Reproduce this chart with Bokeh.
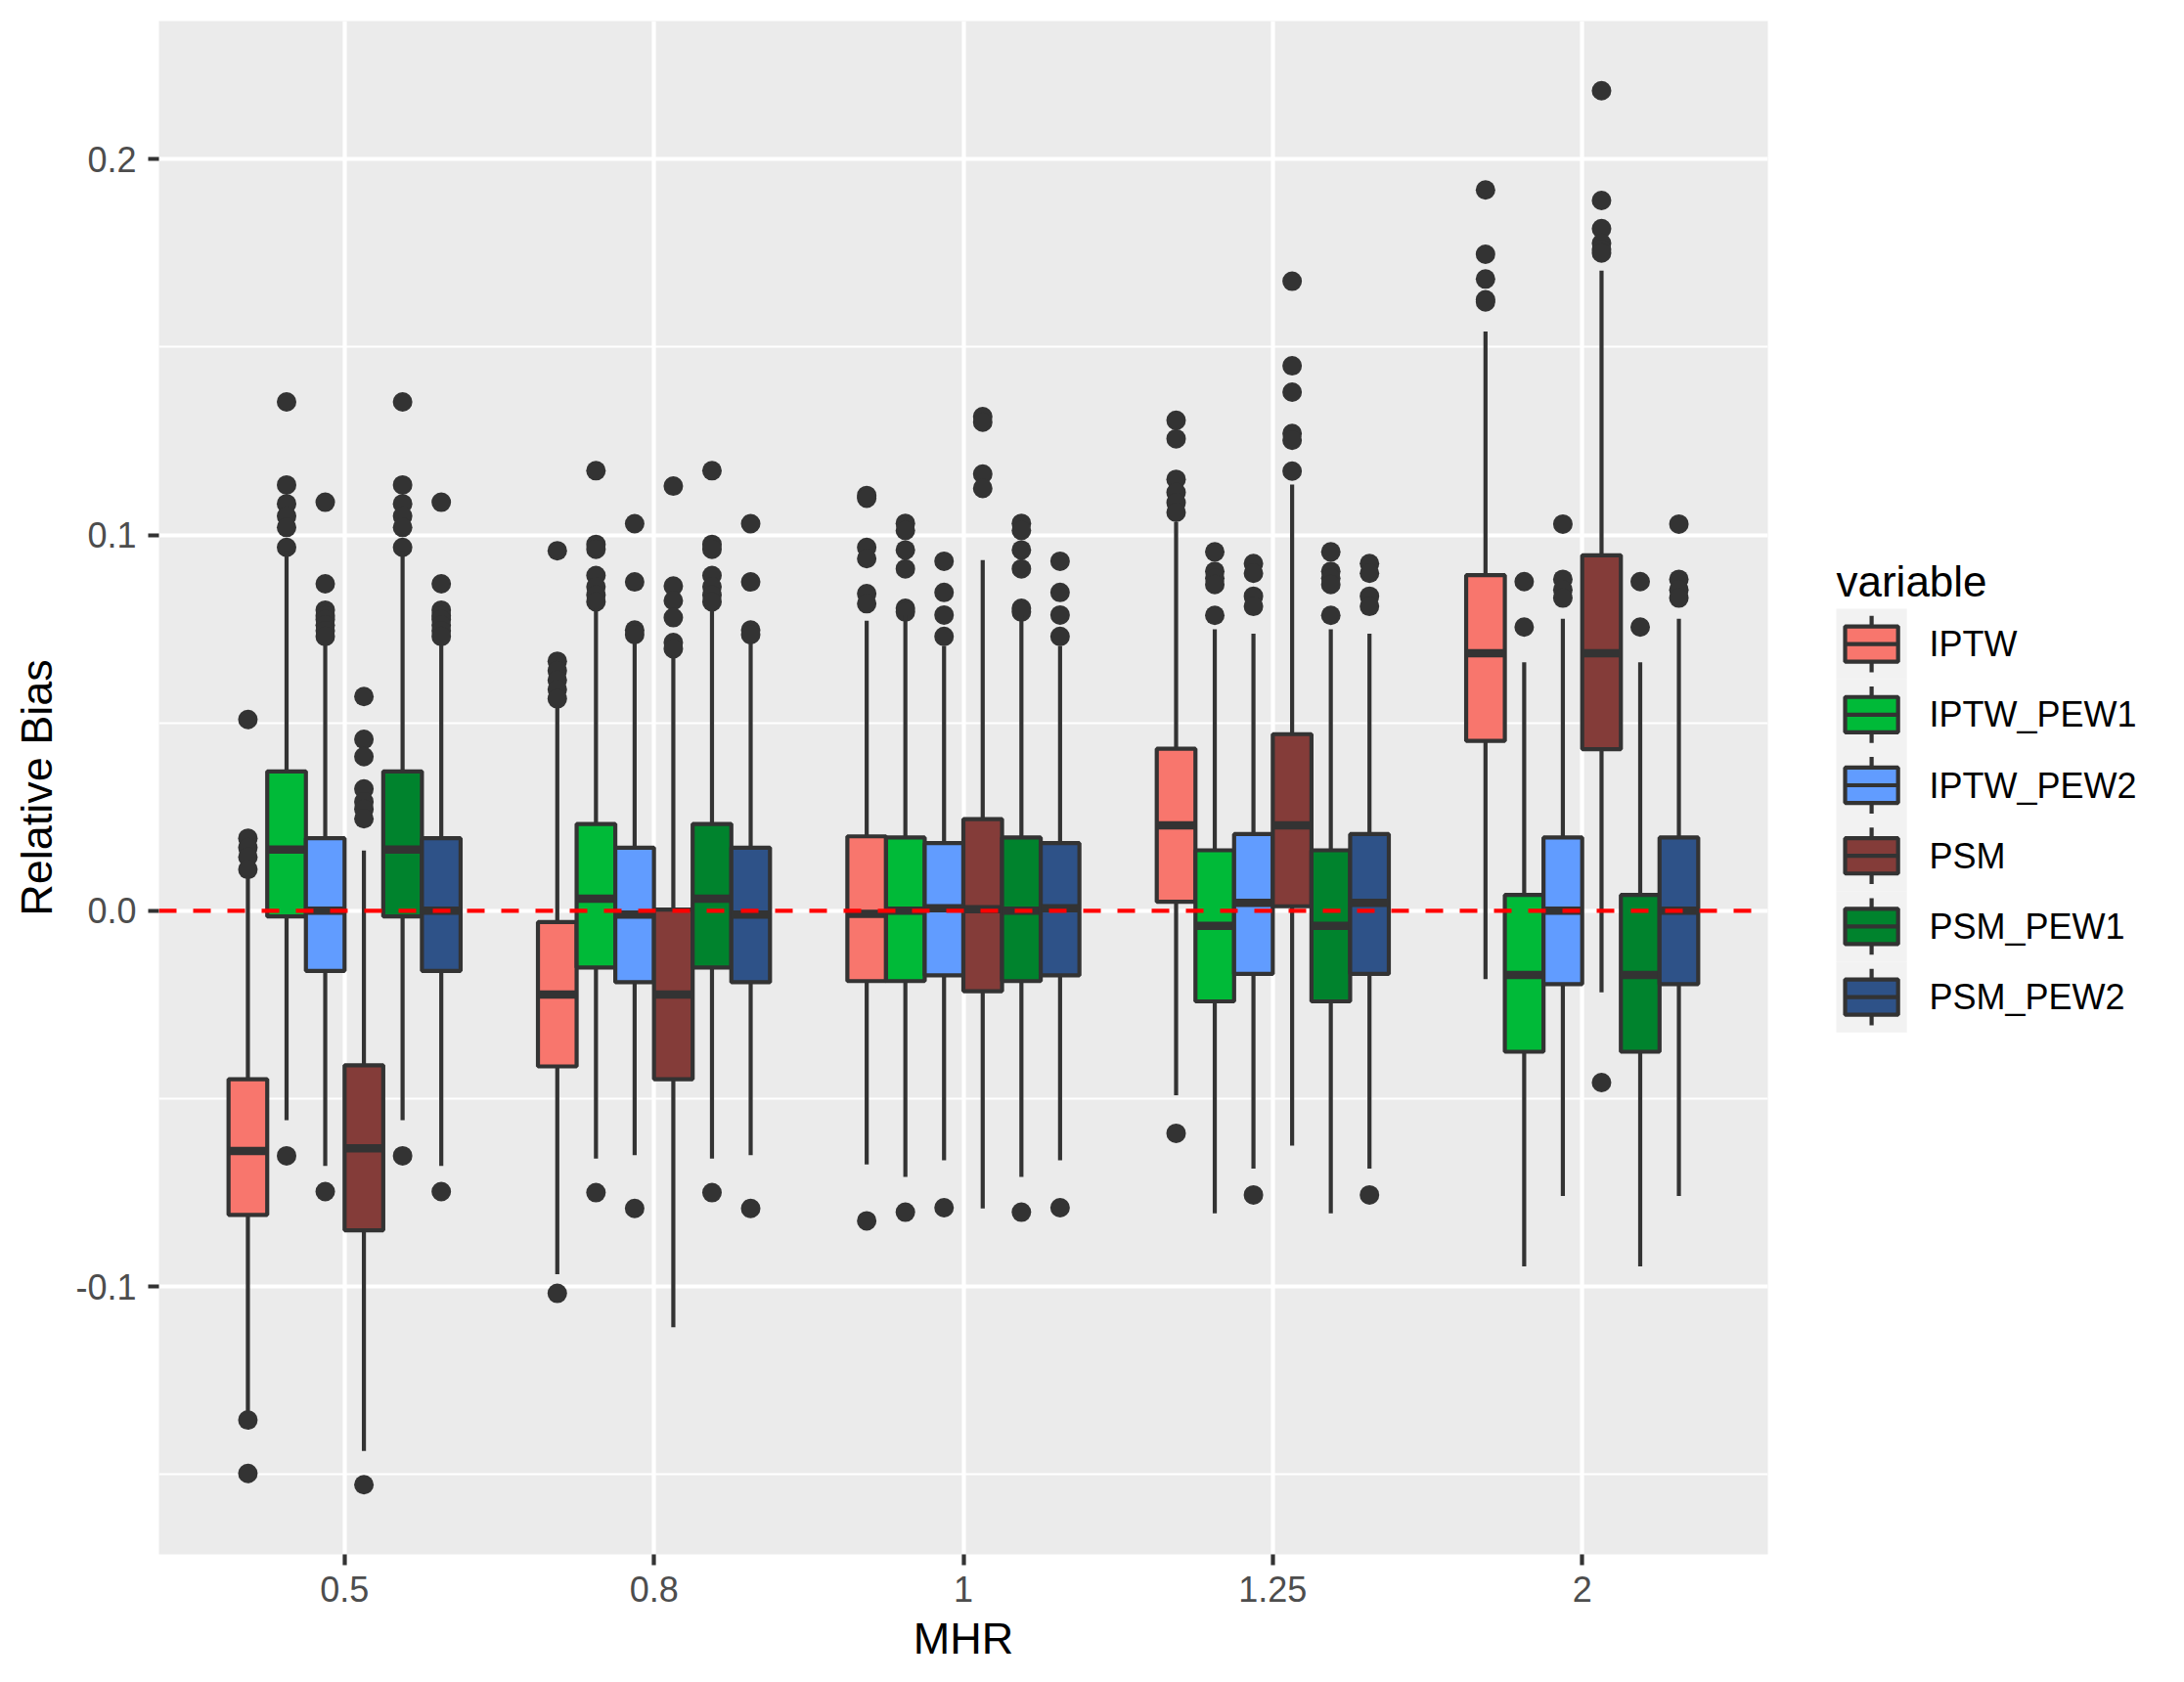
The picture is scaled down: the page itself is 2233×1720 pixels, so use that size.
from bokeh.plotting import figure
from bokeh.models import FactorRange, Range1d, FixedTicker, Span, ColumnDataSource, NumeralTickFormatter
from bokeh.transform import dodge
from bokeh.layouts import row
from bokeh.core.properties import value
from bokeh.embed import file_html
from bokeh.resources import INLINE

# ---------------- data ----------------
mhr = ["0.5", "0.8", "1", "1.25", "2"]
variables = ["IPTW", "IPTW_PEW1", "IPTW_PEW2", "PSM", "PSM_PEW1", "PSM_PEW2"]
colors = ["#F8766D", "#00BA38", "#619CFF", "#843C39", "#00832D", "#2E5288"]

iptw_q1 = [-0.0809, -0.0414, -0.0187, 0.0024, 0.0452]
iptw_med = [-0.0639, -0.0223, -0.0008, 0.0227, 0.0685]
iptw_q3 = [-0.0448, -0.0030, 0.0198, 0.0431, 0.0893]
iptw_lo = [-0.1335, -0.0967, -0.0675, -0.0491, -0.0182]
iptw_hi = [0.0093, 0.0547, 0.0772, 0.1034, 0.1541]
iptw_out = [
    [0.0509, 0.0193, 0.0168, 0.0143, 0.0110, -0.1355, -0.1497],
    [0.0958, 0.0664, 0.0639, 0.0614, 0.0589, 0.0564, -0.1018],
    [0.1105, 0.1098, 0.0967, 0.0937, 0.0844, 0.0817, -0.0825],
    [0.1305, 0.1256, 0.1148, 0.1113, 0.1086, 0.1060, -0.0592],
    [0.1918, 0.1747, 0.1681, 0.1626, 0.1620],
]

pew1_q1 = [-0.0015, -0.0151, -0.0187, -0.0241, -0.0375]
pew1_med = [0.0163, 0.0032, 0.0000, -0.0040, -0.0171]
pew1_q3 = [0.0371, 0.0231, 0.0195, 0.0161, 0.0042]
pew1_lo = [-0.0557, -0.0659, -0.0708, -0.0805, -0.0946]
pew1_hi = [0.0958, 0.0805, 0.0787, 0.0749, 0.0661]
pew1_out = [
    [0.1354, 0.1133, 0.1083, 0.1050, 0.1020, 0.0967, -0.0652],
    [0.1171, 0.0975, 0.0962, 0.0892, 0.0862, 0.0840, 0.0822, -0.0750],
    [0.1031, 0.1012, 0.0960, 0.0910, 0.0805, 0.0795, -0.0802],
    [0.0955, 0.0903, 0.0885, 0.0868, 0.0786],
    [0.0876, 0.0755],
]

pew2_q1 = [-0.0160, -0.0190, -0.0172, -0.0168, -0.0195]
pew2_med = [0.0000, -0.0010, 0.0007, 0.0021, 0.0000]
pew2_q3 = [0.0193, 0.0168, 0.0180, 0.0204, 0.0195]
pew2_lo = [-0.0679, -0.0650, -0.0664, -0.0686, -0.0759]
pew2_hi = [0.0717, 0.0722, 0.0705, 0.0737, 0.0777]
pew2_out = [
    [0.1087, 0.0870, 0.0800, 0.0785, 0.0775, 0.0760, 0.0745, 0.0730, -0.0747],
    [0.1030, 0.0875, 0.0747, 0.0735, -0.0792],
    [0.0930, 0.0847, 0.0787, 0.0730, -0.0790],
    [0.0924, 0.0898, 0.0837, 0.0810, -0.0756],
    [0.1029, 0.0882, 0.0854, 0.0832],
]

psm_q1 = [-0.0850, -0.0448, -0.0214, 0.0012, 0.0430]
psm_med = [-0.0632, -0.0223, 0.0004, 0.0227, 0.0685]
psm_q3 = [-0.0411, 0.0003, 0.0244, 0.0470, 0.0946]
psm_lo = [-0.1437, -0.1108, -0.0792, -0.0625, -0.0217]
psm_hi = [0.0160, 0.0680, 0.0933, 0.1134, 0.1703]
psm_out = [
    [0.0570, 0.0456, 0.0410, 0.0324, 0.0290, 0.0270, 0.0245, -0.1527],
    [0.1130, 0.0864, 0.0825, 0.0780, 0.0714, 0.0697],
    [0.1315, 0.1300, 0.1162, 0.1124],
    [0.1675, 0.1450, 0.1380, 0.1270, 0.1252, 0.1170],
    [0.2182, 0.1890, 0.1815, 0.1776, 0.1760, 0.1750, -0.0457],
]

psm_pew1_q1 = [-0.0015, -0.0151, -0.0187, -0.0241, -0.0375]
psm_pew1_med = [0.0163, 0.0032, 0.0000, -0.0040, -0.0171]
psm_pew1_q3 = [0.0371, 0.0231, 0.0195, 0.0161, 0.0042]
psm_pew1_lo = [-0.0557, -0.0659, -0.0708, -0.0805, -0.0946]
psm_pew1_hi = [0.0958, 0.0805, 0.0787, 0.0749, 0.0661]
psm_pew1_out = [
    [0.1354, 0.1133, 0.1083, 0.1050, 0.1020, 0.0967, -0.0652],
    [0.1171, 0.0975, 0.0962, 0.0892, 0.0862, 0.0840, 0.0822, -0.0750],
    [0.1031, 0.1012, 0.0960, 0.0910, 0.0805, 0.0795, -0.0802],
    [0.0955, 0.0903, 0.0885, 0.0868, 0.0786],
    [0.0876, 0.0755],
]

psm_pew2_q1 = [-0.0160, -0.0190, -0.0172, -0.0168, -0.0195]
psm_pew2_med = [0.0000, -0.0010, 0.0007, 0.0021, 0.0000]
psm_pew2_q3 = [0.0193, 0.0168, 0.0180, 0.0204, 0.0195]
psm_pew2_lo = [-0.0679, -0.0650, -0.0664, -0.0686, -0.0759]
psm_pew2_hi = [0.0717, 0.0722, 0.0705, 0.0737, 0.0777]
psm_pew2_out = [
    [0.1087, 0.0870, 0.0800, 0.0785, 0.0775, 0.0760, 0.0745, 0.0730, -0.0747],
    [0.1030, 0.0875, 0.0747, 0.0735, -0.0792],
    [0.0930, 0.0847, 0.0787, 0.0730, -0.0790],
    [0.0924, 0.0898, 0.0837, 0.0810, -0.0756],
    [0.1029, 0.0882, 0.0854, 0.0832],
]

y_ticks = [-0.1, 0.0, 0.1, 0.2]
y_minor = [-0.15, -0.05, 0.05, 0.15]

series = [
    (iptw_q1, iptw_med, iptw_q3, iptw_lo, iptw_hi, iptw_out),
    (pew1_q1, pew1_med, pew1_q3, pew1_lo, pew1_hi, pew1_out),
    (pew2_q1, pew2_med, pew2_q3, pew2_lo, pew2_hi, pew2_out),
    (psm_q1, psm_med, psm_q3, psm_lo, psm_hi, psm_out),
    (psm_pew1_q1, psm_pew1_med, psm_pew1_q3, psm_pew1_lo, psm_pew1_hi, psm_pew1_out),
    (psm_pew2_q1, psm_pew2_med, psm_pew2_q3, psm_pew2_lo, psm_pew2_hi, psm_pew2_out),
]

# ---------------- styling / layout ----------------
FONT = "Liberation Sans"
DARK = "#333333"
LW = 4.2
P_W, P_H = 1840, 1704
B_LEFT, B_TOP, B_BOTTOM = 162, 21, 115
FRAME_W = 1645
B_RIGHT = P_W - B_LEFT - FRAME_W

all_vals = []
for s in series:
    all_vals += s[3] + s[4]
    for o in s[5]:
        all_vals += o
lo_v, hi_v = min(all_vals), max(all_vals)
pad = 0.05 * (hi_v - lo_v)

p = figure(
    width=P_W, height=P_H,
    x_range=FactorRange(*mhr, range_padding=0.1, range_padding_units="absolute"),
    y_range=Range1d(lo_v - pad, hi_v + pad),
    output_backend="svg", toolbar_location=None,
    min_border_left=B_LEFT, min_border_right=B_RIGHT,
    min_border_top=B_TOP, min_border_bottom=B_BOTTOM,
)
p.background_fill_color = "#EBEBEB"
p.border_fill_color = "white"
p.outline_line_color = None

p.xgrid.grid_line_color = "white"
p.xgrid.grid_line_width = LW
p.ygrid.grid_line_color = "white"
p.ygrid.grid_line_width = LW
p.ygrid.minor_grid_line_color = "white"
p.ygrid.minor_grid_line_width = 2.2

p.yaxis.ticker = FixedTicker(ticks=y_ticks, minor_ticks=y_minor)
p.yaxis.formatter = NumeralTickFormatter(format="0.0")

for ax in (p.xaxis[0], p.yaxis[0]):
    ax.axis_line_color = None
    ax.major_tick_line_color = DARK
    ax.major_tick_line_width = LW
    ax.major_tick_out = 11
    ax.major_tick_in = 0
    ax.minor_tick_line_color = None
    ax.major_label_text_font = FONT
    ax.major_label_text_font_size = "36px"
    ax.major_label_text_color = "#4D4D4D"
    ax.axis_label_text_font = FONT
    ax.axis_label_text_font_size = "45px"
    ax.axis_label_text_font_style = "normal"
    ax.axis_label_text_color = "black"

p.xaxis.axis_label = "MHR"
p.yaxis.axis_label = "Relative Bias"
p.xaxis.major_label_standoff = 11
p.xaxis.axis_label_standoff = 9
p.yaxis.major_label_standoff = 12
p.yaxis.axis_label_standoff = 11

BOXW = 0.75 / len(variables)
for i, (q1, med, q3, lo, hi, outs) in enumerate(series):
    off = -0.375 + BOXW * (i + 0.5)
    src = ColumnDataSource(dict(mhr=mhr, q1=q1, med=med, q3=q3, lo=lo, hi=hi))
    ox, oy = [], []
    for m, vals in zip(mhr, outs):
        ox += [m] * len(vals)
        oy += vals
    osrc = ColumnDataSource(dict(mhr=ox, y=oy))
    xc = dodge("mhr", off, range=p.x_range)
    p.scatter(x=xc, y="y", source=osrc, size=20, fill_color=DARK, line_color=DARK, line_width=0)
    p.segment(x0=xc, y0="q3", x1=xc, y1="hi", source=src, line_color=DARK, line_width=LW)
    p.segment(x0=xc, y0="q1", x1=xc, y1="lo", source=src, line_color=DARK, line_width=LW)
    p.vbar(x=xc, width=BOXW, top="q3", bottom="q1", source=src,
           fill_color=colors[i], line_color=DARK, line_width=LW)
    p.segment(x0=dodge("mhr", off - BOXW / 2, range=p.x_range), y0="med",
              x1=dodge("mhr", off + BOXW / 2, range=p.x_range), y1="med",
              source=src, line_color=DARK, line_width=8.5)

p.add_layout(Span(location=0, dimension="width", line_color="#FF0000",
                  line_width=LW, line_dash="18 17"))

# ---------------- legend panel (coordinates = picture pixels) ----------------
L_W = 2217 - P_W
L_X0 = P_W
frame_top = B_TOP
frame_bot = frame_top + (P_H - B_TOP - B_BOTTOM)
leg = figure(width=L_W, height=P_H,
             x_range=Range1d(L_X0, L_X0 + L_W), y_range=Range1d(frame_bot, frame_top),
             output_backend="svg", toolbar_location=None,
             min_border_left=0, min_border_right=0,
             min_border_top=B_TOP, min_border_bottom=B_BOTTOM,
             x_axis_type=None, y_axis_type=None)
leg.outline_line_color = None
leg.background_fill_color = "white"
leg.border_fill_color = "white"
leg.xgrid.visible = False
leg.ygrid.visible = False

KEY = 72.2
key_left = 1877
key_top0 = 622
kx = key_left + KEY / 2
n = len(variables)
tops = [key_top0 + KEY * i for i in range(n)]
cys = [t + KEY / 2 for t in tops]

leg.text(x=[key_left], y=[593.5], text=["variable"], text_font=value(FONT),
         text_font_size=value("44px"), text_color="black",
         text_align="left", text_baseline="alphabetic")
leg.rect(x=[kx] * n, y=cys, width=KEY, height=KEY,
         fill_color="#F2F2F2", line_color=None)
leg.segment(x0=[kx] * n, y0=[t + 0.1 * KEY for t in tops],
            x1=[kx] * n, y1=[t + 0.25 * KEY for t in tops],
            line_color=DARK, line_width=LW)
leg.segment(x0=[kx] * n, y0=[t + 0.75 * KEY for t in tops],
            x1=[kx] * n, y1=[t + 0.9 * KEY for t in tops],
            line_color=DARK, line_width=LW)
leg.rect(x=[kx] * n, y=cys, width=0.75 * KEY, height=0.5 * KEY,
         fill_color=colors, line_color=DARK, line_width=LW)
leg.segment(x0=[kx - 0.375 * KEY] * n, y0=cys,
            x1=[kx + 0.375 * KEY] * n, y1=cys,
            line_color=DARK, line_width=LW)
leg.text(x=[1972] * n, y=cys, text=variables, text_font=value(FONT),
         text_font_size=value("36px"), text_color="black",
         text_align="left", text_baseline="middle")

layout = row(p, leg)
open("out.html", "w").write(file_html(layout, INLINE))
